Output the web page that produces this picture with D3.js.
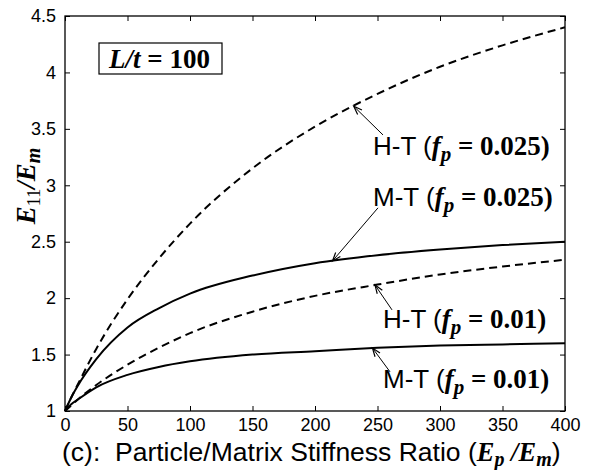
<!DOCTYPE html>
<html><head><meta charset="utf-8">
<script src="https://cdn.jsdelivr.net/npm/d3@7"></script>
<style>body{margin:0;background:#fff}</style>
</head><body>
<svg id="c" width="591" height="470"></svg>
<script>
// ---- data ----
const ratio  = [0, 5, 10, 25, 50, 75, 100, 150, 200, 250, 300, 350, 400];
const htHigh = [1, 1.12, 1.23, 1.55, 1.99, 2.35, 2.66, 3.15, 3.52, 3.81, 4.05, 4.24, 4.40]; // H-T fp=0.025
const mtHigh = [1, 1.12, 1.22, 1.46, 1.74, 1.91, 2.04, 2.20, 2.31, 2.38, 2.43, 2.47, 2.50]; // M-T fp=0.025
const htLow  = [1, 1.05, 1.10, 1.23, 1.41, 1.56, 1.69, 1.88, 2.02, 2.12, 2.21, 2.28, 2.34]; // H-T fp=0.01
const mtLow  = [1, 1.06, 1.10, 1.21, 1.32, 1.39, 1.44, 1.50, 1.53, 1.56, 1.58, 1.59, 1.60]; // M-T fp=0.01
const xTicks = [0, 50, 100, 150, 200, 250, 300, 350, 400];
const yTicks = [1, 1.5, 2, 2.5, 3, 3.5, 4, 4.5];
const seriesNames = ["H-T", "M-T", "H-T", "M-T"];
const seriesFp = ["0.025", "0.025", "0.01", "0.01"];
// annotation anchors in data coordinates: arrow tip x, tail (x,y), label (x,y)
const tipX   = [231, 214, 248, 246];
const tailXY = [[254.4, 3.446], [250.4, 2.80], [261.6, 1.896], [260, 1.347]];
const labXY  = [[246.4, 3.269], [246.4, 2.817], [254.4, 1.736], [254.4, 1.205]];

const svg = d3.select("#c");
const x = d3.scaleLinear().domain([0, 400]).range([65, 565]);
const y = d3.scaleLinear().domain([1, 4.5]).range([411, 16]);

const SANS = "'Liberation Sans', Arial, sans-serif";
const SERIF = "'Liberation Serif', 'Times New Roman', serif";

const series = [
  {vals: htHigh, dash: "8,5"},
  {vals: mtHigh, dash: null},
  {vals: htLow, dash: "8,5"},
  {vals: mtLow, dash: null}
];

const line = d3.line().x(d => x(d[0])).y(d => y(d[1])).curve(d3.curveMonotoneX);

series.forEach(s => {
  svg.append("path")
    .datum(ratio.map((r, i) => [r, s.vals[i]]))
    .attr("d", line)
    .attr("fill", "none")
    .attr("stroke", "#000")
    .attr("stroke-width", 2)
    .attr("stroke-dasharray", s.dash);
});

// axes
function styleAxis(g) {
  g.select(".domain").remove();
  g.selectAll("line").attr("stroke", "#000").attr("stroke-width", 1);
  g.selectAll("text").attr("font-family", SANS).attr("font-size", 18).attr("fill", "#000");
}
svg.append("g").attr("transform", "translate(0,411)")
  .call(d3.axisBottom(x).tickValues(xTicks).tickSize(-5).tickPadding(7).tickFormat(d3.format("d")))
  .call(styleAxis);
svg.append("g").attr("transform", "translate(0,16)")
  .call(d3.axisTop(x).tickValues(xTicks).tickSize(-5).tickFormat(""))
  .call(styleAxis);
svg.append("g").attr("transform", "translate(65,0)")
  .call(d3.axisLeft(y).tickValues(yTicks).tickSize(-5).tickPadding(9).tickFormat(d => String(d)))
  .call(styleAxis);
svg.append("g").attr("transform", "translate(565,0)")
  .call(d3.axisRight(y).tickValues(yTicks).tickSize(-5).tickFormat(""))
  .call(styleAxis);

svg.append("rect").attr("x", 65).attr("y", 16).attr("width", 500).attr("height", 395)
  .attr("fill", "none").attr("stroke", "#000").attr("stroke-width", 1.3);

// L/t box
svg.append("rect").attr("x", 99).attr("y", 43).attr("width", 123).attr("height", 31)
  .attr("fill", "#fff").attr("stroke", "#000").attr("stroke-width", 1.2);
const lt = svg.append("text").attr("x", 109).attr("y", 68)
  .attr("font-family", SERIF).attr("font-size", 27).attr("font-weight", "bold");
lt.append("tspan").attr("font-style", "italic").text("L/t");
lt.append("tspan").text(" = 100");

// annotations
function interp(vals, xv) {
  return d3.scaleLinear().domain(ratio).range(vals)(xv);
}
series.forEach((s, i) => {
  const tx = x(tipX[i]), ty = y(interp(s.vals, tipX[i]));
  const sx = x(tailXY[i][0]), sy = y(tailXY[i][1]);
  svg.append("line").attr("x1", sx).attr("y1", sy).attr("x2", tx).attr("y2", ty)
    .attr("stroke", "#000").attr("stroke-width", 1);
  const ang = Math.atan2(sy - ty, sx - tx);
  const L = 9, w = 0.35;
  svg.append("path")
    .attr("d", `M${tx + L * Math.cos(ang + w)},${ty + L * Math.sin(ang + w)} L${tx},${ty} L${tx + L * Math.cos(ang - w)},${ty + L * Math.sin(ang - w)}`)
    .attr("fill", "none").attr("stroke", "#000").attr("stroke-width", 1.2);

  const t = svg.append("text").attr("x", x(labXY[i][0])).attr("y", y(labXY[i][1]))
    .attr("font-size", 26).attr("fill", "#000");
  t.append("tspan").attr("font-family", SANS).text(seriesNames[i] + " (");
  t.append("tspan").attr("font-family", SERIF).attr("font-style", "italic").attr("font-weight", "bold").attr("font-size", 27).text("f");
  t.append("tspan").attr("font-family", SERIF).attr("font-style", "italic").attr("font-weight", "bold")
    .attr("font-size", 21).attr("dy", 6).text("p");
  t.append("tspan").attr("font-family", SERIF).attr("font-weight", "bold").attr("font-size", 27).attr("dy", -6).text(" = " + seriesFp[i] + ")");
});

// y label
const yl = svg.append("text").attr("transform", "translate(35,186) rotate(-90)")
  .attr("text-anchor", "middle").attr("font-family", SERIF).attr("font-size", 27)
  .attr("font-weight", "bold").attr("font-style", "italic");
yl.append("tspan").text("E");
yl.append("tspan").attr("font-size", 18).attr("font-style", "normal").attr("font-weight", "normal").attr("dy", 5).text("11");
yl.append("tspan").attr("dy", -5).text("/E");
yl.append("tspan").attr("font-size", 20).attr("dy", 5).text("m");

// x label
const xl = svg.append("text").attr("x", 62).attr("y", 461).attr("font-size", 26.5).attr("fill", "#000");
xl.append("tspan").attr("font-family", SANS).text("(c):\u00a0\u00a0Particle/Matrix Stiffness Ratio (");
xl.append("tspan").attr("font-family", SERIF).attr("font-style", "italic").attr("font-weight", "bold").text("E");
xl.append("tspan").attr("font-family", SERIF).attr("font-style", "italic").attr("font-weight", "bold")
  .attr("font-size", 20).attr("dy", 5).text("p");
xl.append("tspan").attr("font-family", SERIF).attr("font-style", "italic").attr("font-weight", "bold")
  .attr("dy", -5).text("\u00a0/E");
xl.append("tspan").attr("font-family", SERIF).attr("font-style", "italic").attr("font-weight", "bold")
  .attr("font-size", 20).attr("dy", 5).text("m");
xl.append("tspan").attr("font-family", SANS).attr("dy", -5).text(")");
</script>
</body></html>
